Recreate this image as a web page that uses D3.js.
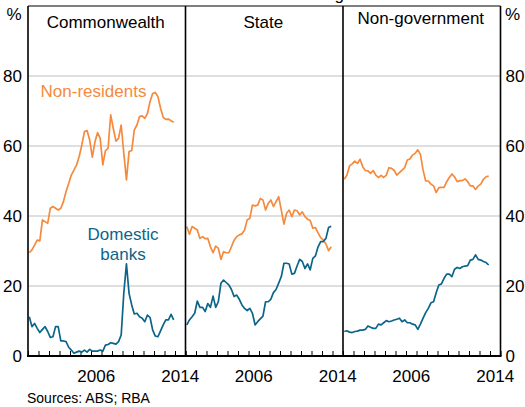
<!DOCTYPE html>
<html><head><meta charset="utf-8">
<script src="https://cdn.jsdelivr.net/npm/d3@7"></script>
<style>body{margin:0;background:#fff}svg{display:block}text{font-family:Arial,"Liberation Sans",Helvetica,sans-serif;fill:#000}</style>
</head><body><div id="chart"></div>
<script>
// Quarterly observations, 2000 Q1 .. 2013 Q4 (56 points)
const startYear = 2000.125;
const step = 0.25;
const panels = ["Commonwealth", "State", "Non-government"];
const yTicks = [0, 20, 40, 60, 80];
const xLabels = [2006, 2014];

const cwthNonRes = [29.5,30.3,31.7,33.1,32.9,38.9,38.4,37.9,42.2,42.7,42.2,41.7,42.2,44.1,47,49.3,51.7,53.1,54.6,57,60.3,64.1,64.4,61.7,56.8,61.2,63.8,62.2,54.6,58.7,59.3,68.9,65,61.4,62.2,66,57.9,50.3,58.4,58.7,64.6,66,68.4,68.6,67.9,69.3,72.7,75,75.3,74.1,70.8,68.2,67.6,67.7,67.2,66.8];
const cwthBanks = [11.2,8.4,9.3,7.9,6.7,7.6,8.4,7.0,5.3,5.5,8.4,8.4,4.3,4.3,4.1,2.5,1.7,0.8,1.1,1.4,1.1,1.7,1.1,1.9,1.4,1.4,1.4,1.7,1.4,3.1,3.3,3.8,3.6,3.4,4.1,6.0,18,26.3,17.9,14.6,12,12.2,11.2,10.8,9.8,11.7,11,7.4,5.7,5.5,7.2,8.9,10.3,10.3,11.9,10.3];
const stateNonRes = [37.0,34.8,37.0,36.5,36.0,33.6,34.1,33.5,33.6,31.2,29.5,31.4,30.8,27.6,29.8,29.5,29.5,31.2,33.1,34.1,34.6,34.9,36,38.9,39.3,43.1,42.9,43.1,45,44.6,41.7,43.6,44.6,42.7,44.1,45.5,41.7,37.7,40.8,41.7,39.8,41.7,41.5,40.3,41.2,39.8,39.1,38.7,36.5,36.7,35.2,33.8,33.1,32,30.1,31.2];
const stateBanks = [8.9,10.3,11.2,12.2,15.7,13.9,13.9,12.7,15,13.9,17.1,13.9,15.5,20.8,21.7,21,20.3,19,17,17.4,16.2,14.6,13.6,13,13.6,12.2,8.9,9.8,10.6,11.4,15.5,15.5,16.2,18.1,19,20.8,22.7,26.5,26.5,26.3,23.4,23.6,25.7,27.6,27,25,26.3,24.6,27.9,28.6,31.2,32.7,32.7,33.6,36.7,37.1];
const nonGovNonRes = [50.5,51.7,54.3,54.9,55.7,55,56.2,54.1,53,52.9,52.2,53,51.7,51,51.6,51,51.7,53.8,53.6,53,51.7,52.4,53.1,53.8,56,56.3,57.4,57.9,58.9,57.6,53.1,50,50,49.1,48.6,46.7,48.1,48.2,48.2,49.8,51,52,51.2,49.8,50.1,50.1,50.6,49.8,48.6,48.6,47.6,48.6,49.1,50.5,51.2,51.4];
const nonGovBanks = [7.0,7.2,6.8,6.7,7.0,7.1,7.4,7.4,7.6,8.6,8.2,7.9,7.9,9.1,8.9,9.5,10.1,9.8,10,10.3,10.5,10.8,9.8,10.3,9.5,9.5,9.1,8.9,7.6,9.1,10.8,12.4,13.6,15.2,15.5,18.1,20.3,20.6,22.2,23.4,23.4,22.7,24.8,25.3,25,25.5,25.7,25.8,27.4,27.6,28.9,27.6,27.4,27,26.7,26];

const nonResSeries = [cwthNonRes, stateNonRes, nonGovNonRes];
const bankSeries = [cwthBanks, stateBanks, nonGovBanks];

const W = 525, H = 407;
const plotLeft = 28, plotRight = 500.5, plotTop = 6, plotBottom = 356;
const ORANGE = "#f58a3d", BLUE = "#0b6589";

const svg = d3.select("#chart").append("svg").attr("width", W).attr("height", H);
const y = d3.scaleLinear().domain([0, 100]).range([plotBottom, plotTop]);
const panelBand = d3.scaleBand().domain(panels).range([plotLeft, plotRight]).paddingInner(0).paddingOuter(0);

// title fragment (cut off at the top in the reference)
svg.append("text").attr("x", 344).attr("y", -0.5).attr("text-anchor", "end")
  .style("font-size", "17px").text("Share of amount outstanding");

// gridlines
svg.append("g").selectAll("line").data(yTicks.filter(d => d > 0)).join("line")
  .attr("x1", plotLeft).attr("x2", plotRight).attr("y1", d => y(d)).attr("y2", d => y(d))
  .attr("stroke", "#bfbfbf").attr("stroke-width", 1);

// y labels
const yl = svg.append("g").style("font-size", "17px");
yl.selectAll("text.l").data(yTicks).join("text").attr("class", "l")
  .attr("x", 22).attr("y", d => y(d)).attr("dy", "0.36em").attr("text-anchor", "end").text(d => d);
yl.selectAll("text.r").data(yTicks).join("text").attr("class", "r")
  .attr("x", 505.5).attr("y", d => y(d)).attr("dy", "0.36em").attr("text-anchor", "start").text(d => d);
yl.append("text").attr("x", 14).attr("y", 20).attr("text-anchor", "middle").text("%");
yl.append("text").attr("x", 512.5).attr("y", 20).attr("text-anchor", "middle").text("%");

const line = (xs) => d3.line().x((d, i) => xs(startYear + i * step)).y(d => y(d));

panels.forEach((name, p) => {
  const x0 = panelBand(name), x1 = x0 + panelBand.bandwidth();
  const x = d3.scaleLinear().domain([2000, 2015]).range([x0, x1]);
  const g = svg.append("g");

  const axis = d3.axisBottom(x).tickValues(d3.range(2000, 2016)).tickSize(-5).tickFormat("");
  g.append("g").attr("transform", `translate(0,${plotBottom})`).call(axis)
    .call(s => s.select(".domain").remove())
    .call(s => s.selectAll(".tick line").attr("stroke", "#000").attr("stroke-width", 1));

  g.selectAll("text.yr").data(xLabels).join("text").attr("class", "yr")
    .attr("x", d => x(d + 0.5)).attr("y", 382).attr("text-anchor", "middle")
    .style("font-size", "17px").text(d => d);

  g.append("path").datum(nonResSeries[p]).attr("d", line(x))
    .attr("fill", "none").attr("stroke", ORANGE).attr("stroke-width", 1.7).attr("stroke-linejoin", "round");
  g.append("path").datum(bankSeries[p]).attr("d", line(x))
    .attr("fill", "none").attr("stroke", BLUE).attr("stroke-width", 1.7).attr("stroke-linejoin", "round");

  g.append("text").attr("x", (x0 + x1) / 2 - 1).attr("y", p === 2 ? 23.5 : 27.5)
    .attr("text-anchor", "middle").style("font-size", "17px").text(name);
});

// frame
const frame = svg.append("g").attr("stroke", "#000").attr("fill", "none");
frame.append("line").attr("x1", plotLeft).attr("x2", plotRight).attr("y1", plotTop).attr("y2", plotTop).attr("stroke-width", 1.2);
frame.append("line").attr("x1", plotLeft - 1).attr("x2", plotRight + 1).attr("y1", plotBottom).attr("y2", plotBottom).attr("stroke-width", 2);
[plotLeft, panelBand("State"), panelBand("Non-government"), plotRight].forEach(xv => {
  frame.append("line").attr("x1", xv).attr("x2", xv).attr("y1", plotTop).attr("y2", plotBottom).attr("stroke-width", 1.6);
});

// series labels
svg.append("text").attr("x", 93.5).attr("y", 97).attr("text-anchor", "middle")
  .style("font-size", "17px").style("fill", ORANGE).text("Non-residents");
const dl = svg.append("text").attr("text-anchor", "middle").style("font-size", "17px").style("fill", BLUE);
dl.append("tspan").attr("x", 123).attr("y", 240).text("Domestic");
dl.append("tspan").attr("x", 123).attr("y", 259.5).text("banks");

// source
svg.append("text").attr("x", 27).attr("y", 403).style("font-size", "14px").text("Sources: ABS; RBA");
</script></body></html>
